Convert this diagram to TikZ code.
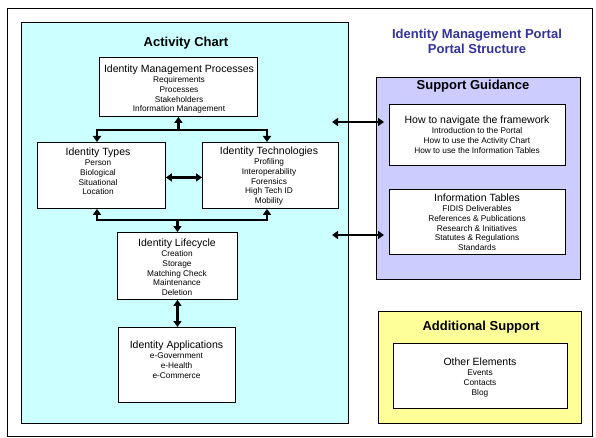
\documentclass[tikz,border=0pt]{standalone}
\usepackage{fontspec}
\setmainfont{Liberation Sans}
\usetikzlibrary{arrows.meta}
\definecolor{cyanbg}{HTML}{CCFFFF}
\definecolor{purplebg}{HTML}{CCCCFF}
\definecolor{yellowbg}{HTML}{FFFF99}
\definecolor{titleblue}{HTML}{333399}
\newcommand{\bt}[1]{{\fontsize{10.5}{10.5}\selectfont #1}\\[0.6pt]}
\begin{document}
\begin{tikzpicture}[x=1pt,y=-1pt,
  panel/.style={draw=black,line width=0.9pt,anchor=north west,inner sep=0pt},
  wbox/.style={draw=black,line width=0.9pt,fill=white,anchor=north west,inner sep=0pt},
  btitle/.style={font=\fontsize{13}{15}\bfseries\selectfont,inner sep=0pt},
  boxtext/.style={anchor=north,align=center,inner sep=0pt,font=\fontsize{8.3}{9.8}\selectfont},
  conn/.style={line width=2.2pt,line join=miter},
  tip/.tip={Triangle[length=6pt,width=8pt]}
]
\useasboundingbox (0,0) rectangle (596,438);
\fill[white] (0,0) rectangle (596,438);

% frames
\node[panel,minimum width=585pt,minimum height=428pt] (frame) at (7,8) {};
\node[panel,fill=cyanbg,minimum width=327pt,minimum height=401pt] (activity) at (21,22) {};
\node[panel,fill=purplebg,minimum width=204pt,minimum height=202pt] (support) at (376,77) {};
\node[panel,fill=yellowbg,minimum width=203pt,minimum height=112pt] (additional) at (378,311) {};

% titles
\node[btitle] (tact) at (186,43) {Activity Chart};
\node[btitle,text=titleblue,align=center,font=\fontsize{13}{14.5}\bfseries\selectfont] (tportal) at (477,41.5) {Identity Management Portal\\Portal Structure};
\node[btitle] (tsup) at (473,86.5) {Support Guidance};
\node[btitle] (tadd) at (481,327) {Additional Support};

% activity boxes
\node[wbox,minimum width=158pt,minimum height=59pt] (imp) at (99,57) {};
\node[boxtext] (impt) at (179,64.2) {\bt{Identity Management Processes}Requirements\\Processes\\Stakeholders\\Information Management};

\node[wbox,minimum width=128pt,minimum height=66pt] (types) at (37,142) {};
\node[boxtext] (typest) at (98,147.2) {\bt{Identity Types}Person\\Biological\\Situational\\Location};

\node[wbox,minimum width=136pt,minimum height=66pt] (tech) at (202,142) {};
\node[boxtext] (techt) at (269,146.2) {\bt{Identity Technologies}Profiling\\Interoperability\\Forensics\\High Tech ID\\Mobility};

\node[wbox,minimum width=120pt,minimum height=67pt] (lc) at (117,232) {};
\node[boxtext] (lct) at (177,238.2) {\bt{Identity Lifecycle}Creation\\Storage\\Matching Check\\Maintenance\\Deletion};

\node[wbox,minimum width=117pt,minimum height=75pt] (app) at (118,327) {};
\node[boxtext] (appt) at (176.5,340.2) {\bt{Identity Applications}e-Government\\e-Health\\e-Commerce};

% support boxes
\node[wbox,minimum width=176pt,minimum height=61pt] (nav) at (389,104) {};
\node[boxtext] (navt) at (477,115.7) {\bt{How to navigate the framework}Introduction to the Portal\\How to use the Activity Chart\\How to use the Information Tables};

\node[wbox,minimum width=176pt,minimum height=65pt] (info) at (389,189) {};
\node[boxtext] (infot) at (477,193.2) {\bt{Information Tables}FIDIS Deliverables\\References \& Publications\\Research \& Initiatives\\Statutes \& Regulations\\Standards};

\node[wbox,minimum width=174pt,minimum height=65pt] (other) at (393,343) {};
\node[boxtext] (othert) at (480,357.7) {\bt{Other Elements}Events\\Contacts\\Blog};

% connectors
\coordinate (jl) at (97,130);
\coordinate (jr) at (267,130);
\coordinate (bl) at (97,220);
\coordinate (br) at (267,220);
\draw[conn,{tip}-] (imp.south) -- (imp.south |- jl);
\draw[conn,{tip}-{tip}] (jl |- types.north) -- (jl) -- (jr) -- (jr |- tech.north);
\draw[conn,{tip}-{tip}] (bl |- types.south) -- (bl) -- (br) -- (br |- tech.south);
\draw[conn,-{tip}] (lc.north |- bl) -- (lc.north);
\draw[conn,{tip}-{tip}] ([yshift=-2pt]types.east) -- ([yshift=-2pt]tech.west);
\draw[conn,{tip}-{tip}] (lc.south) -- (lc.south |- app.north);

\coordinate (a1) at (332,122);
\coordinate (b1) at (384,122);
\coordinate (a2) at (332,235);
\coordinate (b2) at (384,235);
\draw[conn,{tip}-{tip}] (a1) -- (b1);
\draw[conn,{tip}-{tip}] (a2) -- (b2);
\end{tikzpicture}
\end{document}
